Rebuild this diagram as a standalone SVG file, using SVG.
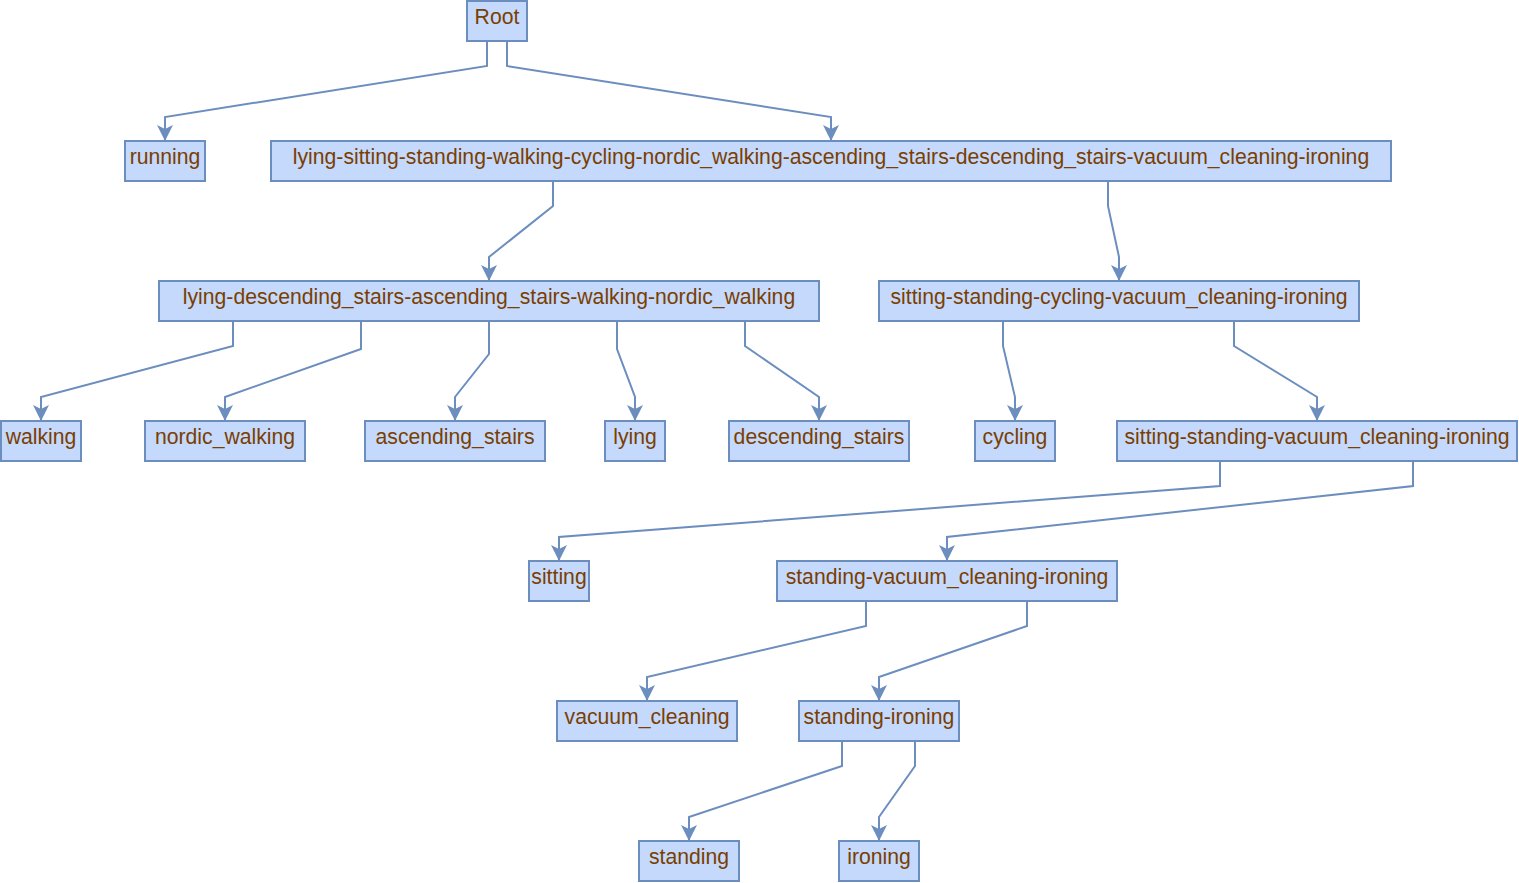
<svg xmlns="http://www.w3.org/2000/svg" width="1519" height="883" viewBox="0 0 1519 883">
  <style>
    .node rect { fill: #c4d9fc; stroke: #6c8ebf; stroke-width: 2; }
    .node text { font-family: "Liberation Sans", Arial, sans-serif; font-size: 21.2px; fill: #7a3e00; text-anchor: middle; }
    .edges path { fill: none; stroke: #6c8ebf; stroke-width: 2; marker-end: url(#arrow); }
  </style>
  <defs>
    <marker id="arrow" markerUnits="userSpaceOnUse" markerWidth="18" markerHeight="18" refX="16" refY="8" orient="auto">
      <path d="M0,0 L16,8 L0,16 L4,8 Z" fill="#6c8ebf"/>
    </marker>
  </defs>
  <rect width="1519" height="883" fill="#ffffff"/>

  <g class="edges">
    <path d="M487,41 V66 L165,117 V141"/>
    <path d="M507,41 V66 L831,117 V141"/>
    <path d="M553,181 V206 L489,257 V281"/>
    <path d="M1108,181 V206 L1119,257 V281"/>
    <path d="M233,321 V346 L41,397 V421"/>
    <path d="M361,321 V349 L225,397 V421"/>
    <path d="M489,321 V354 L455,397 V421"/>
    <path d="M617,321 V349 L635,397 V421"/>
    <path d="M745,321 V346 L819,397 V421"/>
    <path d="M1003,321 V346 L1015,397 V421"/>
    <path d="M1234,321 V346 L1317,397 V421"/>
    <path d="M1220,461 V486 L559,537 V561"/>
    <path d="M1413,461 V486 L947,537 V561"/>
    <path d="M866,601 V626 L647,677 V701"/>
    <path d="M1027,601 V626 L879,677 V701"/>
    <path d="M842,741 V766 L689,817 V841"/>
    <path d="M915,741 V766 L879,817 V841"/>
  </g>

  <g id="root" class="node"><rect x="467" y="1" width="60" height="40"/><text x="497" y="24">Root</text></g>
  <g id="running" class="node"><rect x="125" y="141" width="80" height="40"/><text x="165" y="164">running</text></g>
  <g id="all_but_running" class="node"><rect x="271" y="141" width="1120" height="40"/><text x="831" y="164">lying-sitting-standing-walking-cycling-nordic_walking-ascending_stairs-descending_stairs-vacuum_cleaning-ironing</text></g>
  <g id="locomotion" class="node"><rect x="159" y="281" width="660" height="40"/><text x="489" y="304">lying-descending_stairs-ascending_stairs-walking-nordic_walking</text></g>
  <g id="stationary" class="node"><rect x="879" y="281" width="480" height="40"/><text x="1119" y="304">sitting-standing-cycling-vacuum_cleaning-ironing</text></g>
  <g id="walking" class="node"><rect x="1" y="421" width="80" height="40"/><text x="41" y="444">walking</text></g>
  <g id="nordic_walking" class="node"><rect x="145" y="421" width="160" height="40"/><text x="225" y="444">nordic_walking</text></g>
  <g id="ascending_stairs" class="node"><rect x="365" y="421" width="180" height="40"/><text x="455" y="444">ascending_stairs</text></g>
  <g id="lying" class="node"><rect x="605" y="421" width="60" height="40"/><text x="635" y="444">lying</text></g>
  <g id="descending_stairs" class="node"><rect x="729" y="421" width="180" height="40"/><text x="819" y="444">descending_stairs</text></g>
  <g id="cycling" class="node"><rect x="975" y="421" width="80" height="40"/><text x="1015" y="444">cycling</text></g>
  <g id="ssvci" class="node"><rect x="1117" y="421" width="400" height="40"/><text x="1317" y="444">sitting-standing-vacuum_cleaning-ironing</text></g>
  <g id="sitting" class="node"><rect x="529" y="561" width="60" height="40"/><text x="559" y="584">sitting</text></g>
  <g id="svci" class="node"><rect x="777" y="561" width="340" height="40"/><text x="947" y="584">standing-vacuum_cleaning-ironing</text></g>
  <g id="vacuum_cleaning" class="node"><rect x="557" y="701" width="180" height="40"/><text x="647" y="724">vacuum_cleaning</text></g>
  <g id="standing_ironing" class="node"><rect x="799" y="701" width="160" height="40"/><text x="879" y="724">standing-ironing</text></g>
  <g id="standing" class="node"><rect x="639" y="841" width="100" height="40"/><text x="689" y="864">standing</text></g>
  <g id="ironing" class="node"><rect x="839" y="841" width="80" height="40"/><text x="879" y="864">ironing</text></g>
</svg>
